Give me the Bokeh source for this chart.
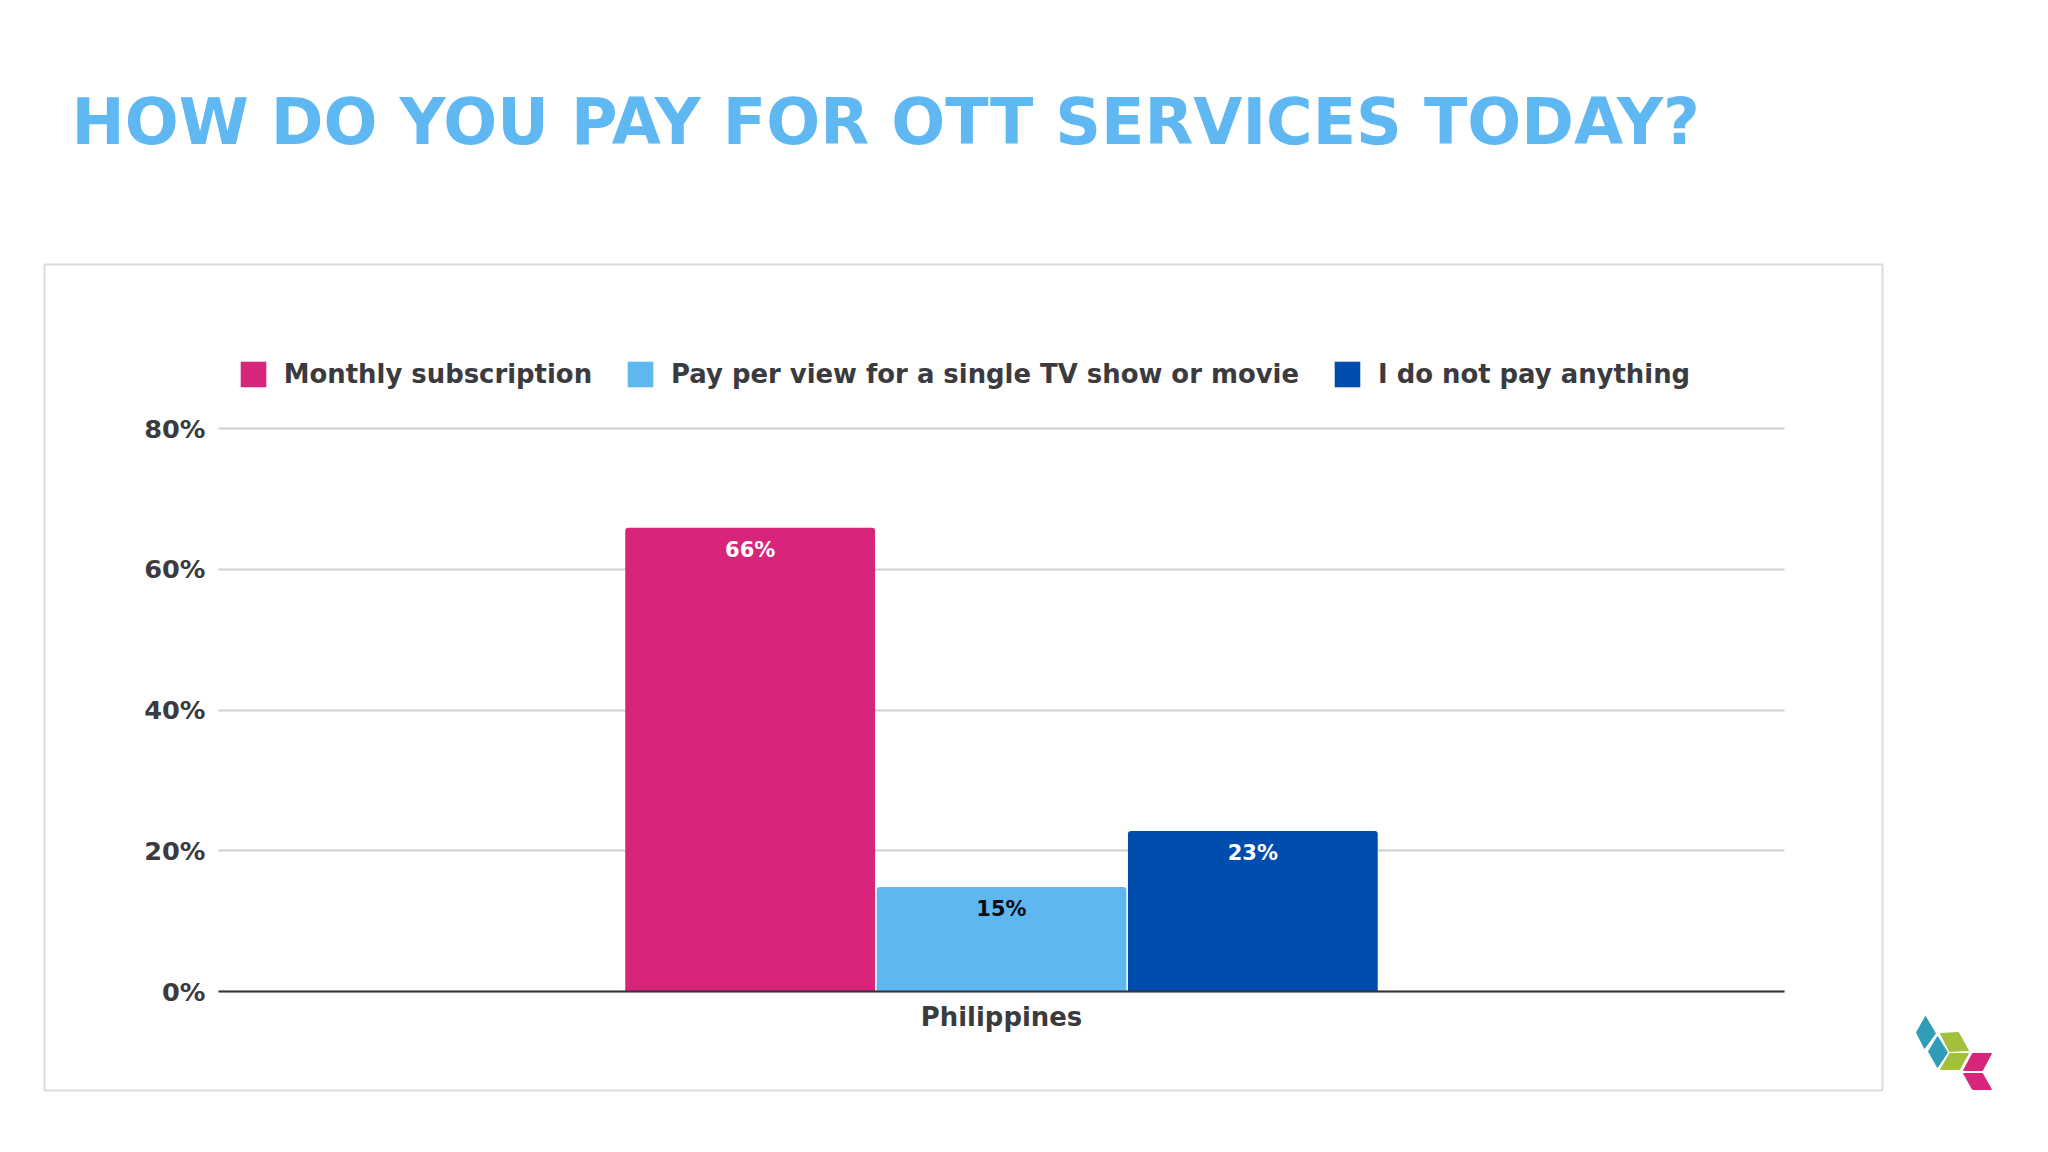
from bokeh.core.properties import value
from bokeh.embed import file_html
from bokeh.models import BoxAnnotation, ColumnDataSource, FixedTicker, Label, Legend, LegendItem, PolyAnnotation, PrintfTickFormatter, Range1d
from bokeh.plotting import figure
from bokeh.resources import INLINE

TITLE = "HOW DO YOU PAY FOR OTT SERVICES TODAY?"
regions = ["Philippines"]
region_x = [0]
series_names = ["Monthly subscription", "Pay per view for a single TV show or movie", "I do not pay anything"]
series_values = [66, 15, 23]
bar_tops = [65.9, 14.85, 22.8]
series_colors = ["#D6257A", "#5FB7F0", "#004DAD"]
label_colors = ["#FFFFFF", "#0B0B14", "#FFFFFF"]
y_ticks = [0, 20, 40, 60, 80]

FONT = "DejaVu Sans"
TEXT = "#3B3B3F"
W, H = 2032, 1136
L, R, T, B = 218, 1784, 428, 991
PX_X = R - L                     # pixels per unit of x
PX_Y = (B - T) / 80              # pixels per percentage point
X0 = (L + R) / 2

p = figure(
    width=W, height=H, output_backend="svg", toolbar_location=None,
    x_range=Range1d(-X0 / PX_X, (W - X0) / PX_X),
    y_range=Range1d(-(H - B) / PX_Y, B / PX_Y),
    min_border=0,
)
p.outline_line_color = None
p.background_fill_color = "#FFFFFF"
p.border_fill_color = "#FFFFFF"
p.grid.visible = False

ya = p.yaxis[0]
ya.fixed_location = -0.5
ya.bounds = (0, 80)
ya.level = "underlay"
ya.ticker = FixedTicker(ticks=y_ticks)
ya.formatter = PrintfTickFormatter(format="%d%%")
ya.axis_line_color = None
ya.major_tick_in = PX_X
ya.major_tick_out = 0
ya.major_tick_line_color = "#CFCFD2"
ya.major_tick_line_width = 2
ya.minor_tick_line_color = None
ya.major_label_text_font = FONT
ya.major_label_text_font_style = "bold"
ya.major_label_text_font_size = "25.6px"
ya.major_label_text_color = TEXT
ya.major_label_standoff = 13

xa = p.xaxis[0]
xa.fixed_location = 0
xa.bounds = (-0.5, 0.5)
xa.ticker = FixedTicker(ticks=region_x)
xa.major_label_overrides = dict(zip(region_x, regions))
xa.axis_line_color = "#33333A"
xa.axis_line_width = 2
xa.major_tick_line_color = None
xa.minor_tick_line_color = None
xa.major_label_text_font = FONT
xa.major_label_text_font_style = "bold"
xa.major_label_text_font_size = "25.9px"
xa.major_label_text_color = TEXT
xa.major_label_standoff = 4

BAR_W = 0.1595
BAR_STEP = 0.1605
items = []
for i, name in enumerate(series_names):
    x = [rx + (i - 1) * BAR_STEP for rx in region_x]
    src = ColumnDataSource(dict(x=x, value=[bar_tops[i]], label=[f"{series_values[i]}%"]))
    r = p.vbar(x="x", top="value", bottom=0, width=BAR_W, source=src,
               fill_color=series_colors[i], line_color=None, border_radius=(3, 3, 0, 0))
    p.text(x="x", y="value", text="label", source=src, text_align="center", text_baseline="middle",
           y_offset=22, text_color=label_colors[i], text_font=value(FONT), text_font_style="bold",
           text_font_size="21px")
    items.append(LegendItem(label=name, renderers=[r]))

legend = Legend(items=items, orientation="horizontal", location=(236.75, H - 390), border_line_color=None,
                background_fill_alpha=0, padding=0, margin=0, spacing=32, label_standoff=15,
                glyph_width=32, glyph_height=32, label_text_font=FONT, label_text_font_style="bold",
                label_text_font_size="25.9px", label_text_color=TEXT)
p.add_layout(legend, "center")

p.add_layout(Label(x=71, y=H - 121, x_units="screen", y_units="screen", text=TITLE, text_font=FONT,
                   text_font_style="bold", text_font_size="63.5px", text_color="#5FB8F2",
                   text_baseline="alphabetic"))

p.add_layout(BoxAnnotation(left=44, right=1882, top=H - 264, bottom=H - 1090, left_units="screen", right_units="screen",
                           top_units="screen", bottom_units="screen", fill_alpha=0,
                           line_color="#DCDCE0", line_alpha=1, line_width=2, level="underlay"))

logo = [
    ("#2E9DB5", [1925, 1935, 1924, 1916], [1016, 1033, 1048, 1032]),
    ("#2E9DB5", [1937, 1947, 1937, 1928], [1036, 1052, 1067, 1051]),
    ("#A2C13B", [1940, 1958, 1968, 1949], [1033, 1032, 1050, 1051]),
    ("#A2C13B", [1949, 1968, 1959, 1940], [1053, 1053, 1069, 1069]),
    ("#D8257C", [1972, 1991, 1982, 1963], [1053, 1053, 1070, 1070]),
    ("#D8257C", [1963, 1982, 1991, 1972], [1073, 1073, 1089, 1089]),
]
for c, xs, ys in logo:
    p.add_layout(PolyAnnotation(xs=xs, ys=[H - v for v in ys], xs_units="screen", ys_units="screen",
                                fill_color=c, fill_alpha=1, line_color=c, line_alpha=1, line_width=1, line_join="round"))

open("out.html", "w").write(file_html(p, INLINE))
